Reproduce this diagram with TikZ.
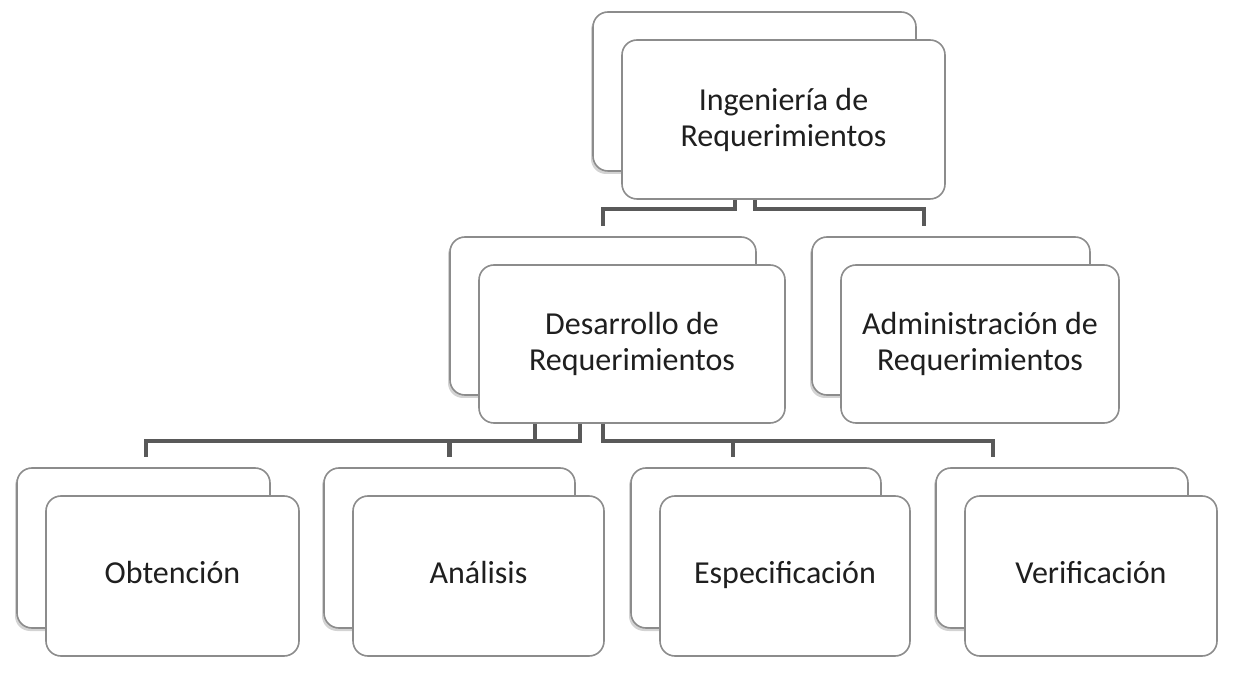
\documentclass[tikz,border=0pt]{standalone}
\usepackage{fontspec}
\setmainfont{Carlito}
\usetikzlibrary{shadows}
\begin{document}
\begin{tikzpicture}[x=1pt,y=1pt,
    card/.style={draw=black!45,line width=1.6pt,rounded corners=15pt,fill=white,align=center,
      text=black!88,font=\fontsize{32}{36}\selectfont,inner sep=0pt},
    leafcard/.style={card,execute at begin node=\strut},
    backcard/.style={card,drop shadow={shadow xshift=-2pt,shadow yshift=-3pt,opacity=0.35}},
    conn/.style={draw=black!65,line width=4.5pt}]

    \useasboundingbox (0,0) rectangle (1236,672);

    % level 0
    \node[backcard,minimum width=323pt,minimum height=159pt] (ingb) at (754.5,580.5) {};
    \node[card,minimum width=323pt,minimum height=159pt] (ing) at (783.5,552.5) {Ingeniería de\\Requerimientos};

    % level 1
    \node[backcard,minimum width=306pt,minimum height=158pt] (desb) at (603,356) {};
    \node[card,minimum width=306pt,minimum height=158pt] (des) at (632,328) {Desarrollo de\\Requerimientos};

    \node[backcard,minimum width=278pt,minimum height=158pt] (admb) at (951,356) {};
    \node[card,minimum width=278pt,minimum height=158pt] (adm) at (980,328) {Administración de\\Requerimientos};

    % level 2
    \node[backcard,minimum width=253pt,minimum height=160pt] (obtb) at (143.5,124) {};
    \node[leafcard,minimum width=253pt,minimum height=160pt] (obt) at (172.5,96) {Obtención};

    \node[backcard,minimum width=251pt,minimum height=160pt] (anab) at (449.5,124) {};
    \node[leafcard,minimum width=251pt,minimum height=160pt] (ana) at (478.5,96) {Análisis};

    \node[backcard,minimum width=250pt,minimum height=160pt] (espb) at (756,124) {};
    \node[leafcard,minimum width=250pt,minimum height=160pt] (esp) at (785,96) {Especificación};

    \node[backcard,minimum width=252pt,minimum height=160pt] (verb) at (1062,124) {};
    \node[leafcard,minimum width=252pt,minimum height=160pt] (ver) at (1091,96) {Verificación};

    % connectors
    \draw[conn] ([xshift=-48.5pt]ing.south) -- ++(0,-9) -| ([yshift=10pt]desb.north);
    \draw[conn] ([xshift=-28.5pt]ing.south) -- ++(0,-9) -| ([xshift=-27pt,yshift=10pt]admb.north);

    \draw[conn] ([xshift=-97pt]des.south) -- ++(0,-17) -| ([xshift=2.5pt,yshift=10pt]obtb.north);
    \draw[conn] ([xshift=-52pt]des.south) -- ++(0,-17) -| ([yshift=10pt]anab.north);
    \draw[conn] ([xshift=-29pt]des.south) -- ++(0,-17) -| ([xshift=-23pt,yshift=10pt]espb.north);
    \draw[conn] ([xshift=-29pt]des.south) -- ++(0,-17) -| ([xshift=-69pt,yshift=10pt]verb.north);

\end{tikzpicture}
\end{document}
